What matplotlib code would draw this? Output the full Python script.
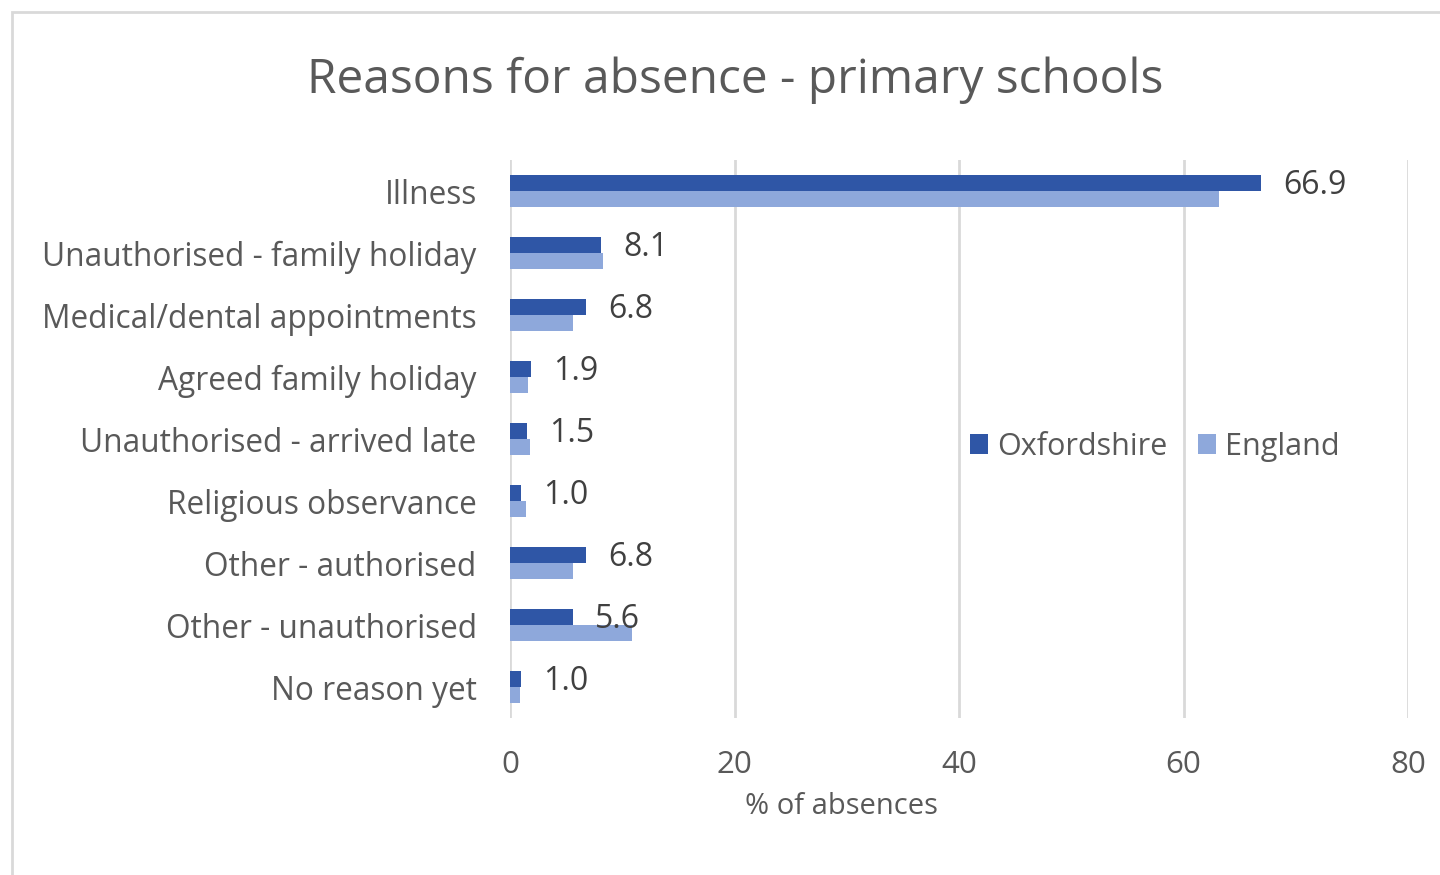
import numpy as np
import matplotlib.pyplot as plt

categories = ['Illness', 'Unauthorised - family holiday', 'Medical/dental appointments',
              'Agreed family holiday', 'Unauthorised - arrived late', 'Religious observance',
              'Other - authorised', 'Other - unauthorised', 'No reason yet']
oxfordshire = [66.9, 8.1, 6.8, 1.9, 1.5, 1.0, 6.8, 5.6, 1.0]
england = [63.2, 8.3, 5.6, 1.6, 1.8, 1.4, 5.6, 10.9, 0.9]
xticks = [0, 20, 40, 60, 80]

dark = '#2F56A6'
light = '#8EA8DB'
grey = '#595959'

plt.rcParams['font.family'] = ['Open Sans', 'DejaVu Sans']

fig = plt.figure(figsize=(14.4, 8.75), dpi=100)
ax = fig.add_axes([510 / 1440, 1 - 718 / 875, 898 / 1440, 558 / 875])

# light border around the chart area
fig.patches.append(plt.Rectangle((12 / 1440, -0.01), 1.0, 1 - 12 / 875 + 0.01,
                                 transform=fig.transFigure, fill=False,
                                 edgecolor='#D9D9D9', linewidth=2))

y = np.arange(len(categories))
h = 0.26
ax.barh(y - h / 2, oxfordshire, height=h, color=dark, label='Oxfordshire', zorder=3)
ax.barh(y + h / 2, england, height=h, color=light, label='England', zorder=3)

for yi, v in zip(y, oxfordshire):
    ax.annotate(f'{v:.1f}', (v, yi - h / 2), xytext=(16, -2), textcoords='offset points',
                va='center', ha='left', fontsize=23, color='#404040', zorder=4)

ax.set_xlim(0, 80)
ax.set_ylim(len(categories) - 0.5, -0.5)
ax.set_xticks(xticks)
ax.set_yticks(y)
ax.set_yticklabels(categories)
ax.tick_params(axis='y', length=0, pad=24, labelsize=22.8, labelcolor=grey)
ax.tick_params(axis='x', length=0, pad=23, labelsize=22.5, labelcolor=grey)
ax.grid(axis='x', color='#D9D9D9', linewidth=2, zorder=0)
for s in ax.spines.values():
    s.set_visible(False)

ax.set_xlabel('% of absences', fontsize=21, color=grey)
ax.xaxis.set_label_coords((841 - 510) / 898, -(792 - 718) / 558)
fig.suptitle('Reasons for absence - primary schools', fontsize=34.5, color=grey,
             x=735 / 1440, y=1 - 80 / 875, va='center')

ax.legend(loc='center', bbox_to_anchor=(0.718, 0.486), ncol=2, frameon=False,
          fontsize=22, labelcolor=grey, handlelength=0.6, handleheight=0.6,
          handletextpad=0.3, columnspacing=1.0)

fig.savefig('out.png', dpi=100)
